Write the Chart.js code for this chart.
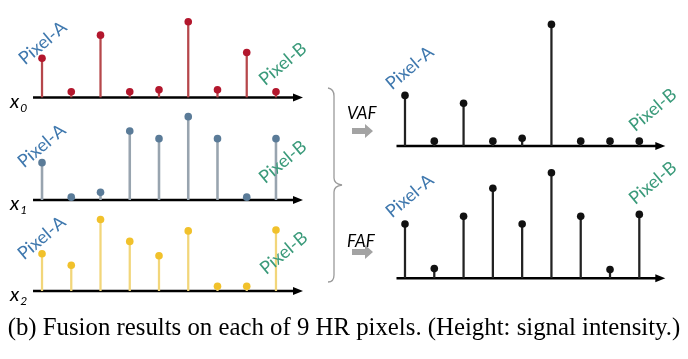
<!DOCTYPE html>
<html>
<head>
<meta charset="utf-8">
<script src="https://cdn.jsdelivr.net/npm/chart.js@4.4.1/dist/chart.umd.min.js"></script>
<style>
  html, body { margin: 0; padding: 0; background: #fff; }
  #wrap { position: relative; width: 688px; height: 359px; overflow: hidden; }
  canvas { position: absolute; }
  .lbl { position: absolute; font-family: Lato, "Open Sans", sans-serif; font-size: 18px; white-space: nowrap;
         transform: translate(-50%, -50%) rotate(-40deg); line-height: 1; }
  .pa { color: #3f78ae; }
  .pb { color: #3a9a7a; }
  .xl { position: absolute; font-family: Lato, "Open Sans", sans-serif; font-style: italic; font-size: 20px; line-height: 1; }
  .xl sub { font-size: 12px; vertical-align: -4px; margin-left: 1px; }
  .op { position: absolute; font-family: Lato, "Open Sans", sans-serif; font-style: italic; font-size: 17px; line-height: 1; }
  #cap { position: absolute; left: 0; width: 688px; text-align: center; top: 315px;
         font-family: "Liberation Serif", "Times New Roman", serif; font-size: 24.8px; line-height: 24.8px; white-space: nowrap; }
</style>
</head>
<body>
<div id="wrap">
  <canvas id="c0"></canvas>
  <canvas id="c1"></canvas>
  <canvas id="c2"></canvas>
  <canvas id="cv"></canvas>
  <canvas id="cf"></canvas>

  <div class="lbl pa" style="left:42px;top:42px">Pixel-A</div>
  <div class="lbl pb" style="left:282px;top:63px">Pixel-B</div>
  <div class="lbl pa" style="left:41px;top:145px">Pixel-A</div>
  <div class="lbl pb" style="left:282px;top:161px">Pixel-B</div>
  <div class="lbl pa" style="left:41px;top:237px">Pixel-A</div>
  <div class="lbl pb" style="left:283px;top:252px">Pixel-B</div>
  <div class="lbl pa" style="left:409px;top:67px">Pixel-A</div>
  <div class="lbl pb" style="left:652px;top:109px">Pixel-B</div>
  <div class="lbl pa" style="left:409px;top:195px">Pixel-A</div>
  <div class="lbl pb" style="left:652px;top:182px">Pixel-B</div>

  <div class="xl" style="left:10px;top:90px">x<sub>0</sub></div>
  <div class="xl" style="left:10px;top:192px">x<sub>1</sub></div>
  <div class="xl" style="left:10px;top:283px">x<sub>2</sub></div>

  <div class="op" style="left:347px;top:104px">VAF</div>
  <div class="op" style="left:347px;top:232px">FAF</div>

  <svg style="position:absolute;left:0;top:0" width="688" height="359">
    <!-- brace -->
    <path d="M328,88 Q334,89 334,96 L334,178 Q334,184 342,185 Q334,186 334,192 L334,275 Q334,282 328,282"
          fill="none" stroke="#9a9a9a" stroke-width="1.3"/>
    <!-- grey block arrows -->
    <path d="M352,128 L365,128 L365,124 L373,131 L365,138 L365,134 L352,134 Z" fill="#a3a3a3"/>
    <path d="M352,249 L365,249 L365,245 L373,252 L365,259 L365,255 L352,255 Z" fill="#a3a3a3"/>
  </svg>

  <div id="cap">(b) Fusion results on each of 9 HR pixels. (Height: signal intensity.)</div>
</div>

<script>
// 9 HR pixels, height = signal intensity
const pixels = ['1', '2', '3', '4', '5', '6', '7', '8', '9'];
const x0Values = [41, 6, 65, 6, 8, 79, 8, 47, 6];
const x1Values = [39, 3, 8, 72, 64, 87, 64, 3, 64];
const x2Values = [39, 27, 75, 52, 37, 63, 5, 5, 64];
const vafValues = [52, 5, 44, 5, 8, 125, 5, 5, 5];
const fafValues = [56, 10, 64, 93, 56, 109, 64, 9, 66];

// axis line with arrow head, drawn under the stems
const axisArrow = {
  id: 'axisArrow',
  beforeDatasetsDraw(chart, args, opts) {
    const ctx = chart.ctx;
    const xs = chart.scales.x;
    const y = chart.chartArea.bottom;
    const x1 = xs.getPixelForValue(0) - opts.before;
    const x2 = xs.getPixelForValue(pixels.length - 1) + opts.after;
    ctx.save();
    ctx.strokeStyle = '#000';
    ctx.fillStyle = '#000';
    ctx.lineWidth = 2.6;
    ctx.beginPath();
    ctx.moveTo(x1, y);
    ctx.lineTo(x2 - 6, y);
    ctx.stroke();
    ctx.beginPath();
    ctx.moveTo(x2, y);
    ctx.lineTo(x2 - 10, y - 4);
    ctx.lineTo(x2 - 10, y + 4);
    ctx.closePath();
    ctx.fill();
    ctx.restore();
  }
};

function stemChart(id, left, top, width, height, axisY, padL, padR, values, stemColor, dotColor, stemW, before, after) {
  const cv = document.getElementById(id);
  cv.style.left = left + 'px';
  cv.style.top = top + 'px';
  cv.style.width = width + 'px';
  cv.style.height = height + 'px';
  cv.width = width;
  cv.height = height;
  new Chart(cv.getContext('2d'), {
    data: {
      labels: pixels,
      datasets: [
        {
          type: 'line',
          data: values,
          showLine: false,
          pointRadius: 3.8,
          pointBackgroundColor: dotColor,
          pointBorderWidth: 0,
          order: 0,
          clip: false
        },
        {
          type: 'bar',
          data: values,
          backgroundColor: stemColor,
          barThickness: stemW,
          order: 1
        }
      ]
    },
    options: {
      responsive: false,
      animation: false,
      events: [],
      layout: { padding: { left: padL, right: padR, top: 0, bottom: top + height - axisY } },
      plugins: {
        legend: { display: false },
        tooltip: { enabled: false },
        axisArrow: { before: before, after: after }
      },
      scales: {
        x: { type: 'category', display: false, offset: true },
        y: { display: false, min: 0, max: axisY - top }
      }
    },
    plugins: [axisArrow]
  });
}

// left three inputs: stems at x = 42 .. 276
stemChart('c0', 0, 0, 330, 104, 97.5, 27.4, 330 - 290.6, x0Values, '#b6474b', '#b3172d', 1.6, 9, 27);
stemChart('c1', 0, 104, 330, 100, 200, 27.4, 330 - 290.6, x1Values, '#98a4af', '#5a7b98', 1.9, 9, 27);
stemChart('c2', 0, 204, 330, 92, 291, 27.4, 330 - 290.6, x2Values, '#f2d67a', '#f1c12b', 1.6, 9, 27);
// right two fusion results: stems at x = 405 .. 639
stemChart('cv', 330, 0, 358, 152, 146, 405 - 14.65 - 330, 688 - 653.95, vafValues, '#222', '#111', 1.6, 8.5, 26);
stemChart('cf', 330, 152, 358, 140, 278.3, 405 - 14.65 - 330, 688 - 653.95, fafValues, '#222', '#111', 1.6, 8.5, 26);
</script>
</body>
</html>
